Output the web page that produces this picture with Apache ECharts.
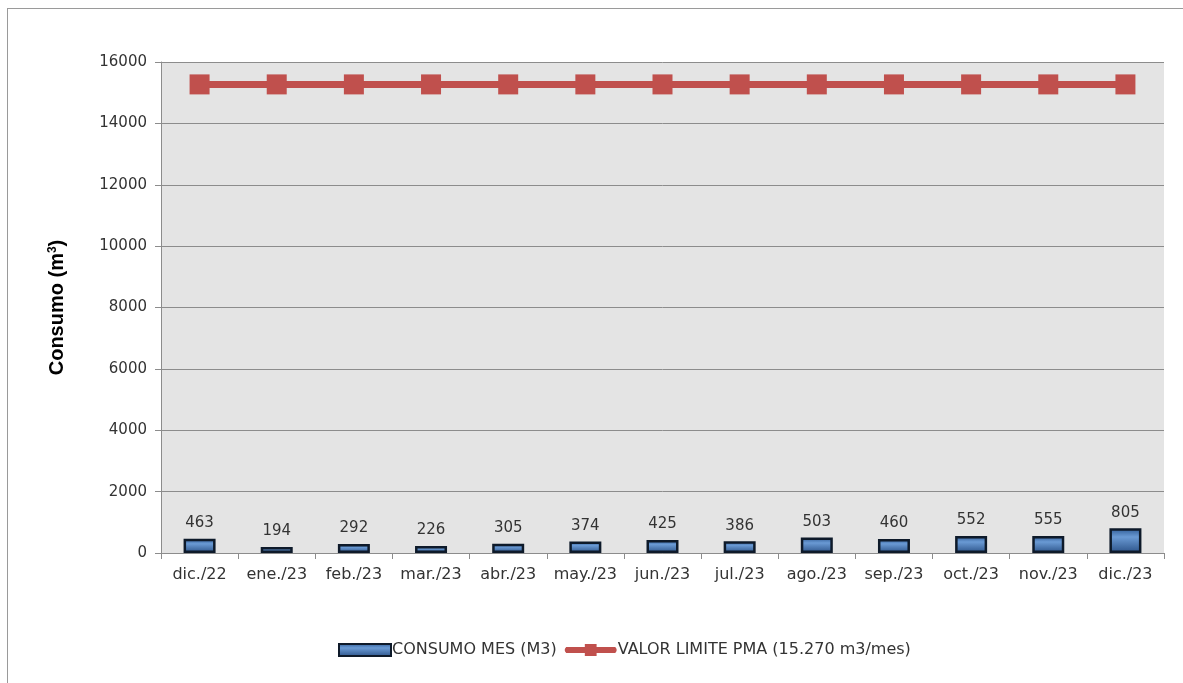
<!DOCTYPE html>
<html>
<head>
<meta charset="utf-8">
<script src="https://cdn.jsdelivr.net/npm/echarts@6/dist/echarts.min.js"></script>
<style>
  html, body { margin: 0; padding: 0; background: #fff; overflow: hidden; width: 1183px; height: 683px; }
  #frame { position: absolute; left: 7px; top: 8px; width: 1176px; height: 675px; box-sizing: border-box;
           border-left: 1px solid #9a9a9a; border-top: 1px solid #9a9a9a; }
  #chart { position: absolute; left: 0; top: 0; width: 1183px; height: 683px; }
</style>
</head>
<body>
<div id="frame"></div>
<div id="chart"></div>
<script>
// Monthly water consumption vs. permitted limit
const months = ['dic./22', 'ene./23', 'feb./23', 'mar./23', 'abr./23', 'may./23', 'jun./23',
                'jul./23', 'ago./23', 'sep./23', 'oct./23', 'nov./23', 'dic./23'];
const consumo = [463, 194, 292, 226, 305, 374, 425, 386, 503, 460, 552, 555, 805];
const limite = [15270, 15270, 15270, 15270, 15270, 15270, 15270,
                15270, 15270, 15270, 15270, 15270, 15270];
const yTicks = [0, 2000, 4000, 6000, 8000, 10000, 12000, 14000, 16000];

const FONT = '"DejaVu Sans", "Open Sans", sans-serif';
// legend glyph for the limit line: thick rounded bar with a square marker in the middle
const LINE_ICON = 'path://M3,3 L22,3 L22,0 L34,0 L34,3 L53,3 Q56,6 53,9 L34,9 L34,12 L22,12 L22,9 L3,9 Q0,6 3,3 Z';

const chart = echarts.init(document.getElementById('chart'), null, { renderer: 'canvas' });

chart.setOption({
  animation: false,
  backgroundColor: 'transparent',
  grid: { left: 161, right: 19, top: 62, bottom: 130, show: true,
          backgroundColor: '#e4e4e4', borderWidth: 0 },
  legend: {
    top: 637, left: 333, itemGap: 8, itemWidth: 52, itemHeight: 12,
    textStyle: { fontFamily: FONT, fontSize: 16, color: '#333', padding: [0, 0, 0, -4] },
    data: [
      { name: 'CONSUMO MES (M3)', icon: 'rect' },
      { name: 'VALOR LIMITE PMA (15.270 m3/mes)', icon: LINE_ICON }
    ]
  },
  xAxis: {
    type: 'category', data: months, boundaryGap: true,
    axisLine: { lineStyle: { color: '#8c8c8c', width: 1 } },
    axisTick: { show: true, length: 6, lineStyle: { color: '#8c8c8c' } },
    axisLabel: { fontFamily: FONT, fontSize: 16, color: '#333', margin: 14, interval: 0 }
  },
  yAxis: {
    type: 'value', min: yTicks[0], max: yTicks[yTicks.length - 1], interval: 2000,
    name: '{a|Consumo (m}{b|3}{a|)}', nameLocation: 'middle', nameGap: 94, nameRotate: 90,
    nameTextStyle: { rich: {
      a: { fontFamily: '"Liberation Sans", Arial, sans-serif', fontWeight: 'bold', fontSize: 20, color: '#000' },
      b: { fontFamily: '"Liberation Sans", Arial, sans-serif', fontWeight: 'bold', fontSize: 12, color: '#000', verticalAlign: 'top', padding: [0, 0, 8, 0] }
    } },
    axisLine: { show: true, lineStyle: { color: '#8c8c8c', width: 1 } },
    axisTick: { show: true, length: 6, lineStyle: { color: '#8c8c8c' } },
    axisLabel: { fontFamily: FONT, fontSize: 15, color: '#333', margin: 14,
                 formatter: v => String(v) },
    splitLine: { lineStyle: { color: '#8c8c8c', width: 1 } }
  },
  series: [
    {
      name: 'CONSUMO MES (M3)', type: 'bar', data: consumo, barWidth: 32,
      itemStyle: {
        color: new echarts.graphic.LinearGradient(0, 0, 0, 1, [
          { offset: 0, color: '#2e5a94' },
          { offset: 0.35, color: '#6a9ad4' },
          { offset: 1, color: '#2b5288' }
        ]),
        borderColor: '#0e1a2a', borderWidth: 2.5
      },
      label: { show: true, position: 'top', distance: 8, fontFamily: FONT, fontSize: 15, color: '#333' },
      z: 3
    },
    {
      name: 'VALOR LIMITE PMA (15.270 m3/mes)', type: 'line', data: limite,
      symbol: 'rect', symbolSize: 20,
      lineStyle: { color: '#c0504d', width: 7 },
      itemStyle: { color: '#c0504d' },
      z: 4
    }
  ]
});
</script>
</body>
</html>
